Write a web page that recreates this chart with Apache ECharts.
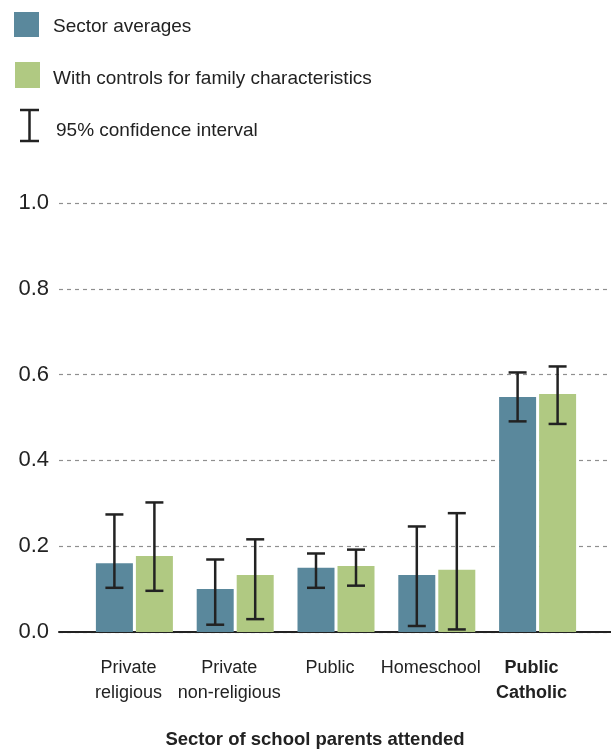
<!DOCTYPE html>
<html>
<head>
<meta charset="utf-8">
<script src="https://cdn.jsdelivr.net/npm/echarts@6/dist/echarts.min.js"></script>
<style>
  html, body { margin: 0; padding: 0; background: #fff; }
  #chart { width: 611px; height: 749px; }
</style>
</head>
<body>
<div id="chart"></div>
<script>
// Sectors of school that parents attended
const categories = ['Private\nreligious', 'Private\nnon-religious', 'Public', 'Homeschool', 'Public\nCatholic'];

// Sector averages with 95% confidence bounds
const sectorAvg = [0.16, 0.10, 0.15, 0.133, 0.548];
const sectorLow = [0.103, 0.017, 0.103, 0.014, 0.491];
const sectorHigh = [0.274, 0.169, 0.183, 0.246, 0.605];

// Estimates with controls for family characteristics
const controlled = [0.177, 0.133, 0.154, 0.145, 0.555];
const controlledLow = [0.096, 0.030, 0.108, 0.006, 0.485];
const controlledHigh = [0.302, 0.216, 0.192, 0.277, 0.619];

const yTicks = [0, 0.2, 0.4, 0.6, 0.8, 1.0];

const FONT = 'Liberation Sans';
const INK = '#222222';
const BLUE = '#5a889c';
const GREEN = '#b0c982';
const BAR_W = 37;
const BAR_GAP = 3;
const HALF_STEP = (BAR_W + BAR_GAP) / 2;

function errorBarItem(sign) {
  return function (params, api) {
    const base = api.coord([api.value(0), api.value(1)]);
    const top = api.coord([api.value(0), api.value(2)]);
    const x = base[0] + sign * HALF_STEP;
    const capHalf = 9;
    const style = { stroke: INK, lineWidth: 2.5 };
    return {
      type: 'group',
      children: [
        { type: 'line', shape: { x1: x, y1: base[1], x2: x, y2: top[1] }, style: style },
        { type: 'line', shape: { x1: x - capHalf, y1: base[1], x2: x + capHalf, y2: base[1] }, style: style },
        { type: 'line', shape: { x1: x - capHalf, y1: top[1], x2: x + capHalf, y2: top[1] }, style: style }
      ]
    };
  };
}

function legendText(str, x, y) {
  return {
    type: 'text', x: x, y: y,
    style: { text: str, fill: INK, font: '19px "' + FONT + '"', verticalAlign: 'middle', align: 'left' }
  };
}

const chart = echarts.init(document.getElementById('chart'), null, { renderer: 'canvas' });

chart.setOption({
  animation: false,
  backgroundColor: '#ffffff',
  textStyle: { fontFamily: FONT, color: INK },
  grid: [
    { left: 59, right: 0, top: 203, height: 429 },
    { left: 84, width: 504, top: 203, height: 429 }
  ],
  xAxis: [
    {
      gridIndex: 0, type: 'category', data: [''],
      axisLine: { show: true, lineStyle: { color: INK, width: 2 } },
      axisTick: { show: false }, axisLabel: { show: false }
    },
    {
      gridIndex: 1, type: 'category', data: categories,
      axisLine: { show: false }, axisTick: { show: false },
      axisLabel: {
        interval: 0, margin: 24, fontSize: 18, lineHeight: 25,
        color: INK, fontFamily: FONT, padding: [0, 12, 0, 0],
        formatter: function (v, i) {
          if (i === categories.length - 1) {
            return v.split('\n').map(function (s) { return '{b|' + s + '}'; }).join('\n');
          }
          return v;
        },
        rich: { b: { fontWeight: 'bold', fontSize: 18, lineHeight: 25, color: INK, fontFamily: FONT } }
      }
    }
  ],
  yAxis: [
    {
      gridIndex: 0, type: 'value', min: yTicks[0], max: yTicks[yTicks.length - 1], interval: 0.2,
      axisLine: { show: false }, axisTick: { show: false },
      axisLabel: {
        margin: 10, fontSize: 22, color: INK, fontFamily: FONT,
        formatter: function (v) { return v.toFixed(1); }
      },
      splitLine: { show: true, lineStyle: { color: '#8f8f8f', width: 1.2, type: [4, 4] } }
    },
    {
      gridIndex: 1, type: 'value', min: yTicks[0], max: yTicks[yTicks.length - 1], interval: 0.2,
      show: false, splitLine: { show: false }
    }
  ],
  series: [
    {
      name: 'Sector averages', type: 'bar', xAxisIndex: 1, yAxisIndex: 1,
      data: sectorAvg, barWidth: BAR_W, barGap: (BAR_GAP / BAR_W * 100) + '%',
      itemStyle: { color: BLUE }
    },
    {
      name: 'With controls for family characteristics', type: 'bar', xAxisIndex: 1, yAxisIndex: 1,
      data: controlled, barWidth: BAR_W,
      itemStyle: { color: GREEN }
    },
    {
      name: 'Sector 95% CI', type: 'custom', xAxisIndex: 1, yAxisIndex: 1,
      renderItem: errorBarItem(-1),
      encode: { x: 0, y: [1, 2] },
      data: categories.map(function (c, i) { return [i, sectorLow[i], sectorHigh[i]]; }),
      z: 5
    },
    {
      name: 'Controlled 95% CI', type: 'custom', xAxisIndex: 1, yAxisIndex: 1,
      renderItem: errorBarItem(1),
      encode: { x: 0, y: [1, 2] },
      data: categories.map(function (c, i) { return [i, controlledLow[i], controlledHigh[i]]; }),
      z: 5
    }
  ],
  graphic: [
    { type: 'rect', x: 14, y: 12, shape: { width: 25, height: 25 }, style: { fill: BLUE } },
    legendText('Sector averages', 53, 27),
    { type: 'rect', x: 15, y: 62, shape: { width: 25, height: 26 }, style: { fill: GREEN } },
    legendText('With controls for family characteristics', 53, 79),
    {
      type: 'group', x: 20, y: 109,
      children: [
        { type: 'line', shape: { x1: 9.5, y1: 1, x2: 9.5, y2: 32 }, style: { stroke: INK, lineWidth: 2.5 } },
        { type: 'line', shape: { x1: 0, y1: 1, x2: 19, y2: 1 }, style: { stroke: INK, lineWidth: 2.5 } },
        { type: 'line', shape: { x1: 0, y1: 32, x2: 19, y2: 32 }, style: { stroke: INK, lineWidth: 2.5 } }
      ]
    },
    legendText('95% confidence interval', 56, 131),
    {
      type: 'text', x: 315, y: 740,
      style: { text: 'Sector of school parents attended', fill: INK, font: 'bold 18.5px "' + FONT + '"', align: 'center', verticalAlign: 'middle' }
    }
  ]
});
</script>
</body>
</html>
